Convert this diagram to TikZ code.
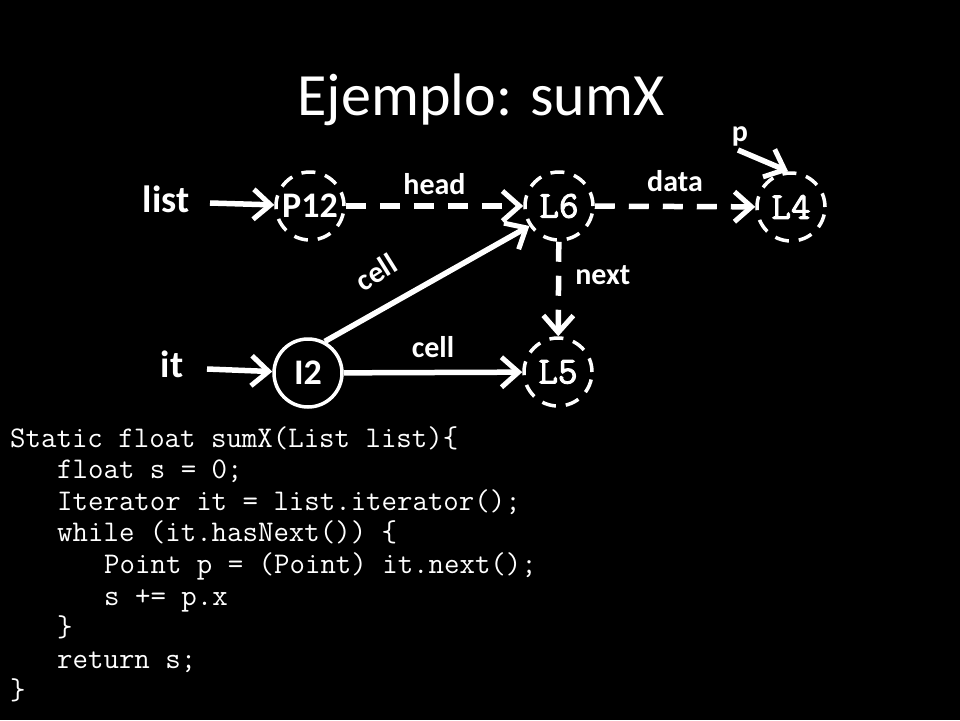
\documentclass[tikz,border=0pt]{standalone}
\usepackage{fontspec}
\setmainfont{Carlito}
\newfontfamily\nodemono{Latin Modern Mono}[FakeBold=2.5]
\usetikzlibrary{arrows.meta,shapes.geometric}
\begin{document}
\begin{tikzpicture}[x=1pt,y=-1pt,
  obj/.style={circle, draw=white, line width=3.5pt, minimum size=68pt, inner sep=0pt, text=white},
  dobj/.style={obj, dash pattern=on 14pt off 10pt, font=\fontsize{38}{38}\selectfont\nodemono},
  sobj/.style={obj, font=\fontsize{36}{36}\selectfont\bfseries},
  arr/.style={draw=white, line width=5.5pt, -{Straight Barb[length=17pt,width=30pt,line width=5pt]}},
  darr/.style={arr, dash pattern=on 20pt off 14pt},
  var/.style={text=white, font=\fontsize{38}{38}\selectfont\bfseries, inner sep=0pt},
  lab/.style={text=white, font=\fontsize{30}{30}\selectfont\bfseries, inner sep=0pt},
  code/.style={text=white, anchor=base west, inner sep=0pt, font=\fontsize{30}{31.6}\selectfont\ttfamily}
]
\fill[black] (0,0) rectangle (960,720);
\useasboundingbox (0,0) rectangle (960,720);

\node[text=white, font=\fontsize{60}{60}\selectfont, anchor=base, inner sep=0pt] (title) at (481,115) {Ejemplo: sumX};

% objects
\node[dobj] (P12) at (310,206) {\rmfamily\bfseries\fontsize{36}{36}\selectfont P12};
\node[dobj] (L6) at (559,206) {L6};
\node[dobj] (L4) at (791,207) {L4};
\node[dobj] (L5) at (558,372) {L5};
\node[sobj] (I2) at (308,373) {I2};

% variables
\node[var, anchor=base] (list) at (166,212) {list};
\node[var, anchor=base] (it) at (172,377) {it};
\node[lab, anchor=base] (p) at (740,141) {p};
\coordinate (listout) at (210,203);
\coordinate (itout) at (207,369);
\coordinate (pout) at (738,150);

% connectors
\draw[arr] (listout) -- (P12);
\draw[arr] (itout) -- (I2);
\draw[arr] (pout) -- ([xshift=-3pt]L4.north);
\draw[darr] (P12) -- node[lab, above=9pt] (headl) {head} (L6);
\draw[darr] (L6) -- node[lab, above=12pt] (datal) {data} (L4);
\draw[darr] (L6) -- node[lab, right=14pt, pos=0.35] (nextl) {next} (L5);
\draw[arr] (I2.62) -- (L6.214);
\node[lab, rotate=32] (cell1) at (376,272) {cell};
\draw[arr] (I2) -- node[lab, above=12pt] (cell2) {cell} (L5);

% code
\node[code] (c0) at (10,447) {Static float sumX(List list)\{};
\node[code] (c1) at (57,478.6) {float s = 0;};
\node[code] (c2) at (57,510.2) {Iterator it = list.iterator();};
\node[code] (c3) at (57,541.8) {while (it.hasNext()) \{};
\node[code] (c4) at (104,573.4) {Point p = (Point) it.next();};
\node[code] (c5) at (104,605) {s += p.x};
\node[code] (c6) at (57,636.6) {\}};
\node[code] (c7) at (57,668.2) {return s;};
\node[code] (c8) at (10,699.8) {\}};
\end{tikzpicture}
\end{document}
